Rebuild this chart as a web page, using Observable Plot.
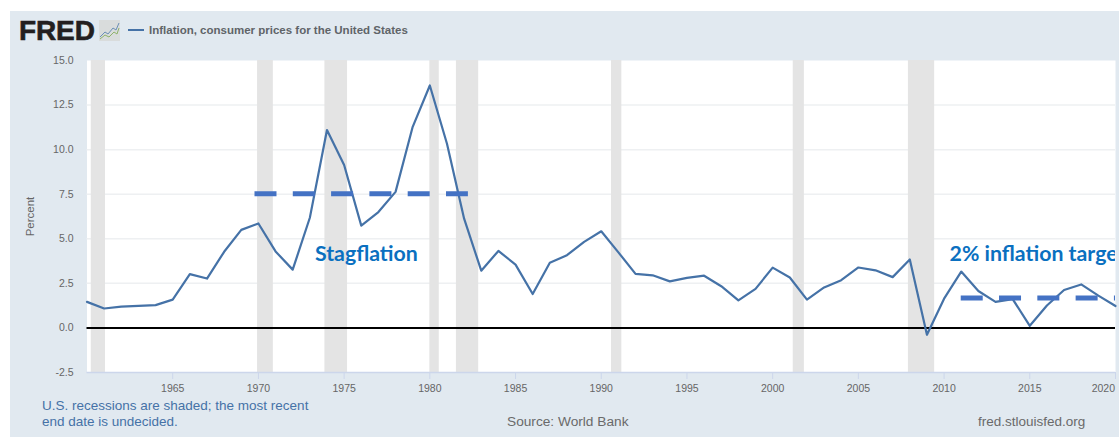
<!DOCTYPE html>
<html>
<head>
<meta charset="utf-8">
<script src="https://cdn.jsdelivr.net/npm/d3@7"></script>
<script src="https://cdn.jsdelivr.net/npm/@observablehq/plot@0.6"></script>
<style>
  html, body { margin: 0; padding: 0; background: #fff; }
  #page { position: relative; width: 1119px; height: 437px; overflow: hidden; font-family: "Liberation Sans", Arial, sans-serif; }
  #panel { position: absolute; left: 10px; top: 11px; right: 0; bottom: 0; background: #e1e9f0; }
  #chart { position: absolute; left: 0; top: 0; }
  #chart svg { background: transparent; display: block; }
  .t { position: absolute; white-space: nowrap; }
  #logo { left: 19px; top: 16px; font-weight: 700; font-size: 28px; line-height: 30px; letter-spacing: -0.1px; color: #231f20; -webkit-text-stroke: 0.6px #231f20; }
  #icon { position: absolute; left: 99px; top: 20px; }
  #swatch { position: absolute; left: 128px; top: 29px; width: 16px; height: 2px; background: #4572a7; }
  #legend { left: 149px; top: 23px; font-size: 11.5px; line-height: 14px; font-weight: 700; color: #5f6468; }
  #note { left: 42px; top: 398px; font-size: 13.5px; line-height: 16px; color: #4572a7; }
  #source { left: 507px; top: 414px; font-size: 13.7px; line-height: 16px; color: #6a6a6a; }
  #site { left: 978px; top: 414px; font-size: 13.5px; line-height: 16px; color: #6a6a6a; }
</style>
</head>
<body>
<div id="page">
  <div id="panel"></div>
  <div id="chart"></div>
  <div class="t" id="logo">FRED</div>
  <svg id="icon" width="21" height="21" viewBox="0 0 21 21">
    <rect width="21" height="21" fill="#d9dcdc"/>
    <polyline points="1,17 6,12 9,14 14,8 17,10 20,3" fill="none" stroke="#6b8fb5" stroke-width="1"/>
    <polyline points="1,19 6,15 10,17 15,12 18,14 20,8" fill="none" stroke="#8fb26a" stroke-width="1"/>
  </svg>
  <div id="swatch"></div>
  <div class="t" id="legend">Inflation, consumer prices for the United States</div>
  <div class="t" id="note">U.S. recessions are shaded; the most recent<br>end date is undecided.</div>
  <div class="t" id="source">Source: World Bank</div>
  <div class="t" id="site">fred.stlouisfed.org</div>
</div>
<script>
const years = d3.range(1960, 2021);
const inflation = [
  1.46, 1.09, 1.20, 1.24, 1.28, 1.59, 3.02, 2.77, 4.27, 5.50,
  5.86, 4.29, 3.27, 6.18, 11.10, 9.14, 5.74, 6.50, 7.63, 11.28,
  13.60, 10.33, 6.13, 3.21, 4.32, 3.55, 1.90, 3.66, 4.08, 4.83,
  5.42, 4.24, 3.03, 2.95, 2.61, 2.81, 2.93, 2.34, 1.55, 2.19,
  3.38, 2.83, 1.59, 2.27, 2.68, 3.39, 3.23, 2.85, 3.84, -0.38,
  1.64, 3.16, 2.07, 1.46, 1.62, 0.12, 1.26, 2.13, 2.44, 1.81, 1.23
];
const recessionStart = [1960.25, 1969.95, 1973.88, 1980.0, 1981.55, 1990.6, 2001.2, 2007.92];
const recessionEnd   = [1961.08, 1970.87, 1975.2, 1980.55, 1982.85, 1991.2, 2001.85, 2009.45];
const yTicks = [-2.5, 0, 2.5, 5, 7.5, 10, 12.5, 15];
const gridValues = [2.5, 5, 7.5, 10, 12.5];
const xTicks = [1965, 1970, 1975, 1980, 1985, 1990, 1995, 2000, 2005, 2010, 2015, 2020];
const lastTick = [2020];
const series = years.map((year, i) => ({year, value: inflation[i]}));
const recessions = recessionStart.map((start, i) => ({start, end: recessionEnd[i]}));
const annotations = [
  {label: "Stagflation", year: 1973.3, value: 4.12},
  {label: "2% inflation target", year: 2010.32, value: 4.12}
];
const dashes = [
  {from: 1969.8, to: 1982.25, level: 7.52},
  {from: 2011.0, to: 2020.2, level: 1.68}
];

const chart = Plot.plot({
  width: 1119,
  height: 437,
  marginLeft: 86.5,
  marginRight: 4,
  marginTop: 60,
  marginBottom: 65,
  style: {background: "transparent", fontFamily: "'Liberation Sans', Arial, sans-serif", fontSize: "10.5px", color: "#666"},
  x: {domain: [1960, 2020], type: "linear"},
  y: {domain: [-2.5, 15]},
  marks: [
    Plot.frame({fill: "#fff", stroke: "none"}),
    Plot.ruleY(gridValues, {stroke: "#eef0f2", strokeWidth: 1.5}),
    Plot.rectY(recessions, {x1: "start", x2: "end", y1: -2.5, y2: 15, fill: "#e4e4e4"}),
    Plot.ruleY([-2.5], {stroke: "#ccd6eb", strokeWidth: 1.5}),
    Plot.ruleY([0], {stroke: "#000", strokeWidth: 2}),
    Plot.line(series, {x: "year", y: "value", stroke: "#4572a7", strokeWidth: 2.2}),
    Plot.ruleY(dashes, {x1: "from", x2: "to", y: "level", stroke: "#4472c4", strokeWidth: 5, strokeDasharray: "22,16.3", clip: "frame"}),
    Plot.text(annotations, {x: "year", y: "value", text: "label", textAnchor: "start", fill: "#0a70c0",
      fontFamily: "Lato, 'Open Sans', sans-serif", fontWeight: 700, fontSize: 21.3, clip: "frame"}),
    Plot.axisX({ticks: xTicks, tickFormat: d => lastTick.includes(d) ? "" : String(d), tickSize: 7, tickPadding: 5, stroke: "#ccd6eb", fill: "#666", label: null}),
    Plot.text(lastTick, {x: d => d, y: -2.5, text: d => String(d), textAnchor: "end", dy: 16, dx: -0.5, fill: "#666", fontSize: 10.5}),
    Plot.axisY({ticks: yTicks, tickFormat: d => d.toFixed(1), tickSize: 0, tickPadding: 13.5, fill: "#666", label: null}),
    Plot.axisY({ticks: [], label: "Percent", labelAnchor: "center", labelArrow: "none", labelOffset: 61.5, fill: "#666", fontSize: 11.5})
  ]
});
document.getElementById("chart").appendChild(chart);
</script>
</body>
</html>
